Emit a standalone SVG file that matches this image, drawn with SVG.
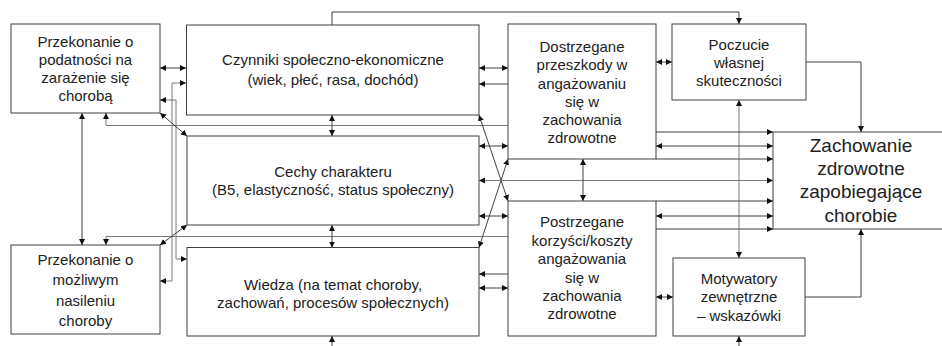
<svg xmlns="http://www.w3.org/2000/svg" width="942" height="346" viewBox="0 0 942 346">
<style>
.box{fill:#fff;stroke:#404040;stroke-width:1}
.t{font-family:"Liberation Sans",Arial,sans-serif;font-size:15px;fill:#222;text-anchor:middle}
.tb{font-family:"Liberation Sans",Arial,sans-serif;font-size:19px;fill:#222;text-anchor:middle}
.c{fill:none;stroke:#404040;stroke-width:1}
.g{stroke:#7a7a7a}
.e{marker-end:url(#ah)}
.b{marker-start:url(#ah);marker-end:url(#ah)}
</style>
<defs>
<marker id="ah" markerUnits="userSpaceOnUse" markerWidth="7" markerHeight="7" refX="6" refY="3" orient="auto-start-reverse" viewBox="0 0 7 6">
<path d="M0,0 L6,3 L0,6 z" fill="#111"/>
</marker>
</defs>
<rect width="942" height="346" fill="#fff"/>
<g id="connectors">
<path class="c e" d="M332,25 V12 H739 V24"/>
<path class="c b" d="M160,68 H186"/>
<path class="c g b" d="M186,83 H172 V281 H160"/>
<path class="c g b" d="M160,100 H176 V259 H187"/>
<path class="c b" d="M82,113 V245"/>
<path class="c g e" d="M508,125.5 H106 V113"/>
<path class="c g e" d="M508,236.5 H106 V245"/>
<path class="c b" d="M160,113 L187,136"/>
<path class="c b" d="M187,225 L160,245"/>
<path class="c b" d="M332,115 V136"/>
<path class="c b" d="M332,225 V247.5"/>
<path class="c e" d="M332,346 V336"/>
<path class="c e" d="M739,346 V336"/>
<path class="c b" d="M479,68 H508"/>
<path class="c e" d="M508,84 H479"/>
<path class="c b" d="M479,115 L508,201"/>
<path class="c b" d="M508,159 L479,247.5"/>
<path class="c b" d="M479,146 H508"/>
<path class="c g b" d="M479,180.5 H773"/>
<path class="c b" d="M479,216 H508"/>
<path class="c e" d="M508,274 H479"/>
<path class="c b" d="M479,288 H508"/>
<path class="c b" d="M583,159 V201"/>
<path class="c b" d="M656,62 H672"/>
<path class="c e" d="M806,62 H861 V132"/>
<path class="c e" d="M805,297 H861 V229"/>
<path class="c g b" d="M739,100 V258"/>
<path class="c b" d="M656,297 H673"/>
<path class="c e" d="M656,132 H773"/>
<path class="c b" d="M656,146 H773"/>
<path class="c e" d="M656,159 H773"/>
<path class="c e" d="M656,201 H773"/>
<path class="c b" d="M656,216 H773"/>
<path class="c e" d="M656,229 H773"/>
</g>
<g id="nodeA">
<rect class="box" x="11" y="24" width="149" height="89"/>
<text class="t" x="85.5" y="47">Przekonanie o</text>
<text class="t" x="85.5" y="65">podatności na</text>
<text class="t" x="85.5" y="83">zarażenie się</text>
<text class="t" x="85.5" y="101">chorobą</text>
</g>
<g id="nodeB">
<rect class="box" x="186.5" y="25" width="292.5" height="90"/>
<text class="t" x="333" y="65">Czynniki społeczno-ekonomiczne</text>
<text class="t" x="333" y="85">(wiek, płeć, rasa, dochód)</text>
</g>
<g id="nodeC">
<rect class="box" x="187" y="136" width="292" height="89"/>
<text class="t" x="333" y="176.5">Cechy charakteru</text>
<text class="t" x="333" y="195">(B5, elastyczność, status społeczny)</text>
</g>
<g id="nodeD">
<rect class="box" x="187" y="247.5" width="292" height="88.5"/>
<text class="t" x="333" y="290">Wiedza (na temat choroby,</text>
<text class="t" x="333" y="308">zachowań, procesów społecznych)</text>
</g>
<g id="nodeE">
<rect class="box" x="11" y="245" width="149" height="89"/>
<text class="t" x="85.5" y="264.5">Przekonanie o</text>
<text class="t" x="85.5" y="285">możliwym</text>
<text class="t" x="85.5" y="305.5">nasileniu</text>
<text class="t" x="85.5" y="326">choroby</text>
</g>
<g id="nodeF">
<rect class="box" x="508" y="24" width="148" height="135"/>
<text class="t" x="582" y="51.5">Dostrzegane</text>
<text class="t" x="582" y="70">przeszkody w</text>
<text class="t" x="582" y="88.5">angażowaniu</text>
<text class="t" x="582" y="106.5">się w</text>
<text class="t" x="582" y="125">zachowania</text>
<text class="t" x="582" y="143">zdrowotne</text>
</g>
<g id="nodeG">
<rect class="box" x="508" y="201" width="148" height="135"/>
<text class="t" x="582" y="227">Postrzegane</text>
<text class="t" x="582" y="245.5">korzyści/koszty</text>
<text class="t" x="582" y="264">angażowania</text>
<text class="t" x="582" y="282.5">się w</text>
<text class="t" x="582" y="301">zachowania</text>
<text class="t" x="582" y="319">zdrowotne</text>
</g>
<g id="nodeH">
<rect class="box" x="672" y="24" width="134" height="76"/>
<text class="t" x="739" y="50">Poczucie</text>
<text class="t" x="739" y="68">własnej</text>
<text class="t" x="739" y="86">skuteczności</text>
</g>
<g id="nodeI">
<rect class="box" x="673" y="258" width="132" height="78"/>
<text class="t" x="739" y="283.5">Motywatory</text>
<text class="t" x="739" y="302">zewnętrzne</text>
<text class="t" x="739" y="320.5">– wskazówki</text>
</g>
<g id="nodeJ">
<rect class="box" x="773" y="132" width="180" height="97"/>
<text class="tb" x="861" y="151.5">Zachowanie</text>
<text class="tb" x="861" y="175">zdrowotne</text>
<text class="tb" x="861" y="198">zapobiegające</text>
<text class="tb" x="861" y="221.5">chorobie</text>
</g>
</svg>
